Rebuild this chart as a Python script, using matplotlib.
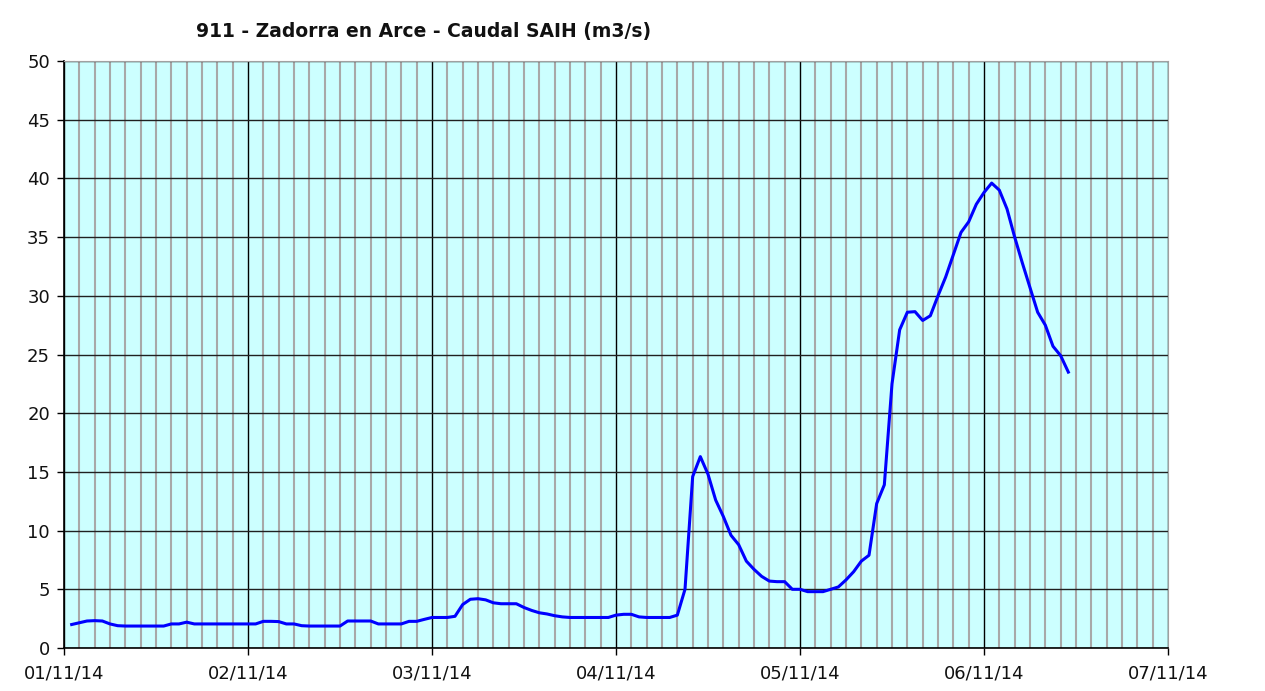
import matplotlib
matplotlib.use("Agg")
import matplotlib.pyplot as plt
import matplotlib.dates as mdates
import numpy as np
import pandas as pd

# caudal horario (m3/s), desde 01/11/14 01:00
inicio = "2014-11-01 01:00"
caudal = [
    2.0, 2.15, 2.3, 2.33, 2.3, 2.05, 1.9, 1.87, 1.87, 1.87, 1.87, 1.87, 1.87,
    2.05, 2.05, 2.2, 2.05, 2.05, 2.05, 2.05, 2.05, 2.05, 2.05, 2.05, 2.05,
    2.27, 2.27, 2.25, 2.05, 2.05, 1.9, 1.87, 1.87, 1.87, 1.87, 1.87,
    2.3, 2.3, 2.3, 2.3, 2.05, 2.05, 2.05, 2.05, 2.27, 2.27, 2.44, 2.6,
    2.6, 2.6, 2.7, 3.7, 4.15, 4.2, 4.1, 3.85, 3.77, 3.77, 3.77, 3.45, 3.2,
    3.0, 2.9, 2.75, 2.65, 2.6, 2.6, 2.6, 2.6, 2.6, 2.6, 2.8, 2.87, 2.87,
    2.65, 2.6, 2.6, 2.6, 2.6, 2.8, 5.0, 14.6, 16.3, 14.8, 12.6, 11.2, 9.6,
    8.8, 7.4, 6.7, 6.1, 5.7, 5.65, 5.65, 5.0, 5.0, 4.8, 4.8, 4.8, 5.0, 5.2,
    5.8, 6.5, 7.4, 7.9, 12.3, 13.9, 22.5, 27.1, 28.6, 28.65, 27.9, 28.3,
    30.0, 31.6, 33.5, 35.4, 36.3, 37.8, 38.8, 39.6, 39.0, 37.4, 35.0, 32.8,
    30.7, 28.6, 27.5, 25.7, 24.9, 23.5,
]
fechas = pd.date_range(inicio, periods=len(caudal), freq="h")

x_ini = pd.Timestamp("2014-11-01")
x_fin = pd.Timestamp("2014-11-07")
titulo = "911 - Zadorra en Arce - Caudal SAIH (m3/s)"

fig = plt.figure(figsize=(12.65, 6.91), dpi=100)
ax = fig.add_axes([64 / 1265, 43 / 691, (1168 - 64) / 1265, (648 - 61) / 691])
ax.set_facecolor("#CCFFFF")

ax.plot(fechas, caudal, color="#0000FF", linewidth=2.2, zorder=3)

ax.set_xlim(x_ini, x_fin)
ax.set_ylim(0, 50)
ax.set_yticks(np.arange(0, 51, 5))

ax.xaxis.set_major_locator(mdates.DayLocator())
ax.xaxis.set_major_formatter(mdates.DateFormatter("%d/%m/%y"))
ax.xaxis.set_minor_locator(mdates.HourLocator(byhour=range(0, 24, 2)))

ax.grid(axis="x", which="minor", color="#A8A8A8", linewidth=1.5, zorder=1)
ax.grid(axis="x", which="major", color="black", linewidth=1.0, zorder=2)
ax.grid(axis="y", which="major", color="#202020", linewidth=1.0, zorder=2)

ax.tick_params(axis="both", which="major", direction="out", length=5,
               width=1.0, labelsize=13, color="black", labelcolor="#111111")
ax.tick_params(axis="x", which="minor", length=0)
ax.tick_params(axis="x", pad=7)
ax.tick_params(axis="y", pad=5)

for lado in ["left", "bottom"]:
    ax.spines[lado].set_color("black")
    ax.spines[lado].set_linewidth(1.2)
ax.spines["top"].set_color("#A0A0A0")
ax.spines["right"].set_color("#A0A0A0")

fig.text(424 / 1265, 1 - 31 / 691, titulo, ha="center", va="center",
         fontsize=13.5, fontweight="bold", color="#111111")

fig.savefig("out.png", dpi=100, facecolor="white")
